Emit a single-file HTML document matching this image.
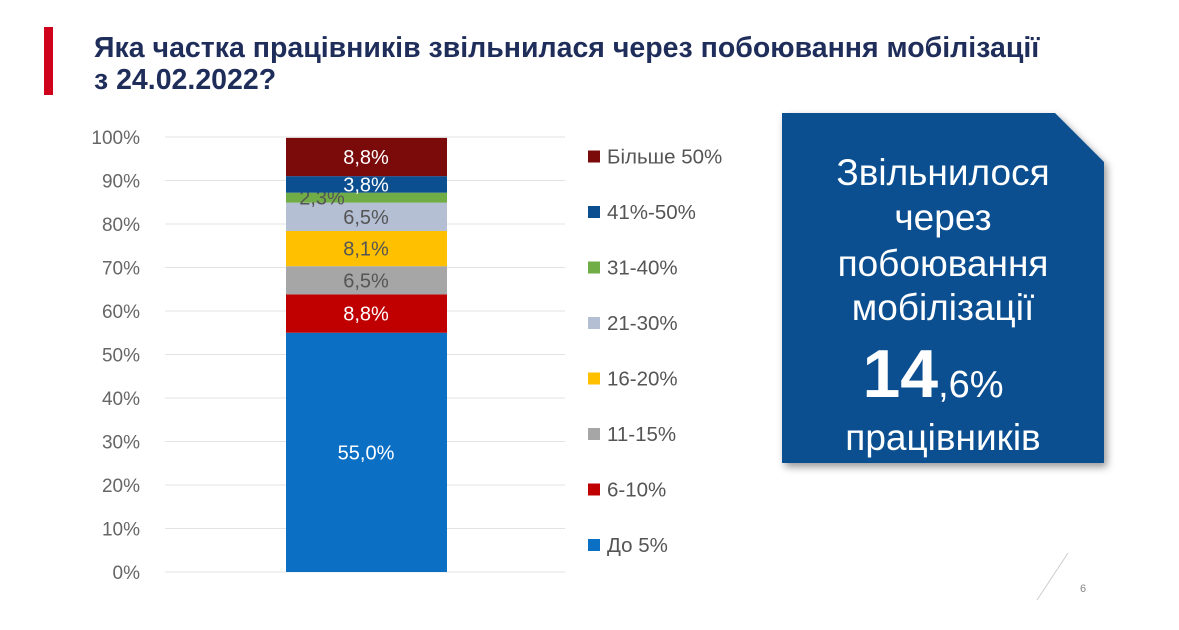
<!DOCTYPE html>
<html><head><meta charset="utf-8"><style>
body{margin:0;width:1179px;height:625px;background:#fff;overflow:hidden;font-family:"Liberation Sans","DejaVu Sans",sans-serif;}
</style></head><body>
<svg width="1179" height="625" xmlns="http://www.w3.org/2000/svg">
<rect x="44" y="27" width="9" height="68" fill="#d0021b"/>
<text x="94" y="57" font-size="28.5" font-weight="bold" fill="#1f2d5a">Яка частка працівників звільнилася через побоювання мобілізації</text>
<text x="94" y="89" font-size="28.5" font-weight="bold" fill="#1f2d5a">з 24.02.2022?</text>
<g id="grid"></g><g id="bars"></g><g id="legend"></g>
<polygon points="782,113 1055,113 1104,162 1104,463 782,463" fill="#0b4f91" style="filter:drop-shadow(3px 4px 4px rgba(0,0,0,0.4))"/>
<g fill="#fff" text-anchor="middle" font-size="37">
<text x="943" y="185">Звільнилося</text>
<text x="943" y="230">через</text>
<text x="943" y="276">побоювання</text>
<text x="943" y="320">мобілізації</text>
<text x="933" y="397"><tspan font-size="68" font-weight="bold">14</tspan><tspan font-size="38">,6%</tspan></text>
<text x="943" y="450">працівників</text>
</g>
<line x1="1037" y1="600" x2="1068" y2="553" stroke="#ccc" stroke-width="1"/>
<text x="1080" y="592" font-size="11" fill="#888">6</text>
</svg>
<script>
const categories=["До 5%","6-10%","11-15%","16-20%","21-30%","31-40%","41%-50%","Більше 50%"];
const values=[55.0,8.8,6.5,8.1,6.5,2.3,3.8,8.8];
const colors=["#0b6fc4","#c00000","#a6a6a6","#ffc000","#b4bfd4","#70ad47","#0b4f91","#7b0a0a"];
const labelColors=["#fff","#fff","#555","#555","#555","#555","#fff","#fff"];
const ticks=[0,10,20,30,40,50,60,70,80,90,100];
const NS="http://www.w3.org/2000/svg";
const y=v=>572-v*4.35;
function mk(t,a,p){const e=document.createElementNS(NS,t);for(const k in a)e.setAttribute(k,a[k]);p.appendChild(e);return e;}
const g=document.getElementById('grid');
ticks.forEach(t=>{
 const l=mk('line',{x1:165,x2:565,y1:y(t),y2:y(t),stroke:'#e3e3e3'},g);
 
 
 const tx=mk('text',{x:140,y:y(t)+7,'text-anchor':'end','font-size':19,fill:'#666'},g);
 tx.textContent=t+'%';
 
 
});
const b=document.getElementById('bars');let acc=0;
values.forEach((v,i)=>{
 const r=mk('rect',{x:286,width:161,y:y(acc+v),height:v*4.35,fill:colors[i]},b);
 
 
 const mid=y(acc+v/2);
 let lx=366;
 if(categories[i]==="31-40%")lx=322;
 const tx=mk('text',{x:lx,y:mid+7,'text-anchor':'middle','font-size':20,fill:labelColors[i]},b);
 tx.textContent=v.toFixed(1).replace('.',',')+'%';
 
 
 acc+=v;
});
const lg=document.getElementById('legend');
categories.forEach((c,i)=>{
 const yy=552-i*55.5;
 const r=mk('rect',{x:588,y:yy-13,width:12,height:12,fill:colors[i]},lg);
 
 
 const tx=mk('text',{x:607,y:yy,'font-size':20.5,fill:'#555'},lg);
 tx.textContent=c;
 
 
});
</script>
</body></html>
